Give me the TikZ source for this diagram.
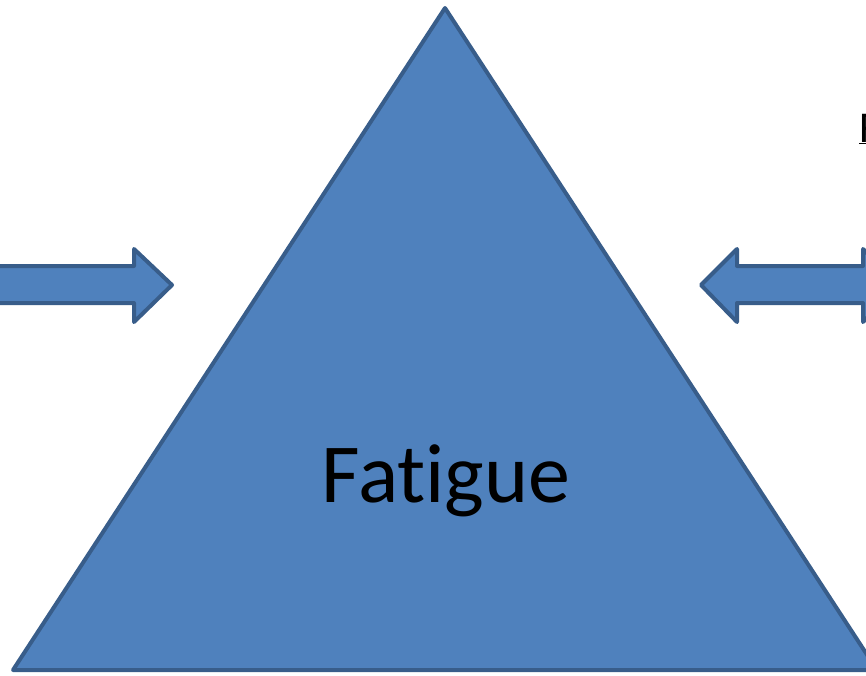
\documentclass[tikz,border=0pt]{standalone}
\usepackage{fontspec}
\setmainfont{Carlito}[Ligatures=NoCommon]
\usepackage{xcolor}
\definecolor{officeblue}{RGB}{79, 129, 189}
\definecolor{officeedge}{RGB}{56, 93, 138}
\usepackage{tikz}
\usetikzlibrary{positioning}

\begin{document}
\begin{tikzpicture}[x=1pt, y=-1pt,
  blockshape/.style={fill=officeblue, draw=officeedge, line width=4pt, line join=round}]

  \useasboundingbox (0,0) rectangle (866,675);
  \clip (0,0) rectangle (866,675);

  % the big triangle
  \draw[blockshape] (445,8) -- (877,670) -- (13,670) -- cycle;
  \node[font=\fontsize{84}{90}\selectfont, anchor=base] (fatigue) at (446,502) {Fatigue};

  % arrow coming in from the left
  \draw[blockshape] (-10,266) -- (134,266) -- (134,249) -- (172,285)
    -- (134,322) -- (134,303) -- (-10,303) -- cycle;

  % double arrow on the right
  \draw[blockshape] (701,285) -- (737,249) -- (737,266) -- (863,266) -- (863,249)
    -- (899,285) -- (863,322) -- (863,303) -- (737,303) -- (737,322) -- cycle;

  % cut-off heading at the top right
  \node[font=\fontsize{44}{50}\selectfont, anchor=base west, inner sep=0pt] (heading) at (859,142) {\underline{F}};
\end{tikzpicture}
\end{document}
